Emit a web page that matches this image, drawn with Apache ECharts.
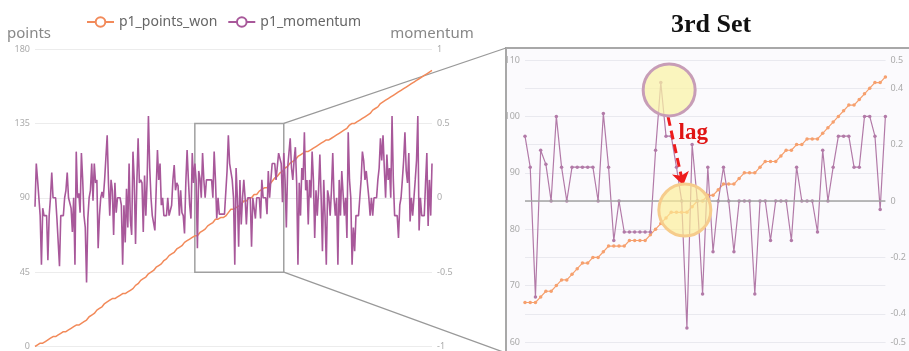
<!DOCTYPE html>
<html>
<head>
<meta charset="utf-8">
<script src="https://cdn.jsdelivr.net/npm/echarts@6/dist/echarts.min.js"></script>
<style>
  html, body { margin: 0; padding: 0; background: #fff; }
  #chart { width: 909px; height: 351px; }
</style>
</head>
<body>
<div id="chart"></div>
<script>
// p1 points won (running total), before / during / after the 3rd set
const wonBefore = [
  0,0,1,1,2,2,2,3,3,4,4,4,5,5,6,6,6,7,7,7,8,8,9,9,9,10,10,11,11,11,12,12,13,13,13,14,14,15,15,16,16,
  17,18,18,19,20,20,21,22,22,23,24,24,25,26,26,27,28,28,
  28,29,29,29,30,30,30,31,31,32,32,32,33,33,34,34,34,35,
  36,37,37,38,39,40,40,41,42,42,43,44,44,
  45,46,46,47,48,48,
  49,50,50,51,52,52,53,54,55,55,56,57,57,58,59,59,60,61,61,62,63,63,64,65,65,66,66,66
];
const wonSet3 = [
  67,67,67,68,69,69,70,71,71,72,73,74,74,75,75,76,77,77,77,77,
  78,78,78,78,79,80,81,82,83,83,83,83,84,85,85,86,86,87,88,88,
  88,89,90,90,90,91,92,92,92,93,94,94,95,95,96,96,96,97,98,99,
  100,101,102,102,103,104,105,106,106,107
];
const wonAfter = [
  108,109,109,110,111,111,112,113,113,114,115,115,
  116,116,117,117,118,118,118,119,119,120,120,121,121,121,122,122,123,123,124,124,125,125,125,
  126,126,127,127,128,128,129,129,130,130,131,131,132,132,133,
  134,134,135,135,135,136,136,137,137,137,138,138,139,139,
  140,141,141,142,143,143,144,145,145,146,147,147,148,148,149,150,150,150,151,151,
  152,152,153,154,154,155,155,156,156,157,157,158,158,159,159,160,
  160,161,161,162,162,163,163,163,164,164,165,165,166,166,167
];

// p1 momentum, same three stretches
const momBefore = [
  -0.06,0.23,0.12,0.13,-0.12,-0.45,-0.07,-0.12,-0.12,-0.12,-0.42,-0.12,0,0.17,0,0,0,-0.14,-0.14,-0.46,
  -0.12,-0.12,-0.12,0,0.05,0.17,0,0,-0.07,-0.23,0,-0.45,0.31,0,0.03,-0.1,0.3,0.12,-0.12,-0.2,
  -0.57,-0.14,0,0.05,0.23,-0.02,0.23,0.1,0.12,-0.34,-0.12,0,0.04,0,0.12,0.12,0.42,0.1,-0.12,0.12,
  0.05,-0.25,0.1,-0.1,0,0,0,-0.05,-0.45,-0.05,-0.3,0.06,-0.2,0.23,-0.15,-0.25,0.31,0.12,-0.31,0.1,
  0.4,0.1,0.12,0.1,-0.23,0.15,-0.12,0.12,0.55,0.2,0,-0.12,-0.12,-0.22,0.05,0.32,0.12,0.23,-0.05,0,
  -0.12,-0.12,-0.12,0,-0.12,-0.12,-0.05,0.12,0.22,0.05,0.1,0.08,-0.12,0.05,-0.1,-0.12,-0.24,0.1,0.32,0.12,
  -0.05,-0.14,0.3,0.1
];
const momSet3 = [
  0.23,0.12,-0.34,0.18,0.13,0,0.3,0.12,0,0.12,0.12,0.12,0.12,0.12,0,0.31,0.12,-0.14,0,-0.11,
  -0.11,-0.11,-0.11,-0.11,-0.11,0.18,0.42,0.23,0.23,0.12,0,-0.45,0.2,0,-0.33,0.12,-0.18,0,0.12,0,
  -0.18,0,0,0,-0.33,0,0,-0.14,0,0,0,-0.14,0.12,0,0,0,-0.11,0.18,0,0.12,
  0.23,0.23,0.23,0.12,0.12,0.3,0.3,0.23,-0.03,0.3
];
const momAfter = [
  0.12,-0.2,0.2,0.3,0.4,0.2,0.12,0.25,0.34,0.1,-0.45,0.1,-0.12,0.2,0.12,0.44,0.05,0.12,-0.18,0.12,
  0,0.31,0.12,-0.27,0.05,-0.12,0.05,0.29,0,-0.36,0.12,-0.12,-0.45,0.05,0,-0.12,0.05,0.3,0,-0.12,
  0,-0.45,0.12,-0.12,0.18,0.18,-0.12,0,-0.27,0.44,0.12,0,-0.45,-0.2,-0.36,-0.12,-0.12,-0.12,0,0.12,
  0.31,0.25,0.12,0.18,0.18,0,-0.12,0,-0.12,0,0,0,0.12,0.2,0.4,0.25,0.42,0.2,0,0.29,
  0.12,0.2,0,0.55,0.12,-0.12,-0.12,-0.12,-0.27,-0.05,0,0.12,0.25,0.44,0.18,0.1,0.3,-0.16,0,-0.12,
  0,0.12,0.25,0.55,-0.22,0,-0.12,-0.12,-0.12,0.1,0.3,-0.19,0.12,-0.12,0.23
];

const seriesNames = ['p1_points_won', 'p1_momentum'];
const boxPoints = [45, 135];   // vertical extent of the zoom box on the left chart

const set3Start = wonBefore.length;
const set3End = set3Start + wonSet3.length - 1;
const wonAll = wonBefore.concat(wonSet3, wonAfter);
const momAll = momBefore.concat(momSet3, momAfter);
const toPairs = arr => arr.map((v, i) => [i, v]);

const FONT = '"Noto Sans", sans-serif';
const ORANGE = '#f28a5a';
const PURPLE = '#a8589a';
const ORANGE_LT = '#f6a06e';
const PURPLE_LT = '#b27aa8';

const yBase = {
  axisLine: {show: false},
  axisTick: {show: false},
  axisLabel: {fontSize: 9, color: '#aaa', margin: 5, fontFamily: FONT},
  splitLine: {lineStyle: {color: '#ececec'}},
  nameGap: 8,
  nameTextStyle: {fontSize: 15, color: '#888', fontFamily: FONT}
};

const chart = echarts.init(document.getElementById('chart'));

const option = {
  animation: false,
  legend: {
    data: seriesNames,
    left: 81,
    top: 10,
    itemWidth: 27,
    itemHeight: 12,
    itemGap: 10,
    textStyle: {fontSize: 14, color: '#666', fontFamily: FONT}
  },
  grid: [
    {left: 35, top: 49, width: 397, height: 301},
    {left: 525, top: 60, width: 370, height: 282}
  ],
  xAxis: [
    {type: 'value', gridIndex: 0, min: 0, max: wonAll.length - 1, show: false},
    {type: 'value', gridIndex: 1, min: 0, max: wonSet3.length - 1, show: false}
  ],
  yAxis: [
    {...yBase, gridIndex: 0, min: 0, max: 180, interval: 45, name: 'points',
      nameTextStyle: {...yBase.nameTextStyle, padding: [0, 12, 0, 0]}},
    {...yBase, gridIndex: 0, position: 'right', min: -1, max: 1, interval: 0.5, name: 'momentum'},
    {...yBase, gridIndex: 1, min: 60, max: 110, interval: 10, name: '',
      splitLine: {lineStyle: {color: '#e9e9ef'}}},
    {...yBase, gridIndex: 1, position: 'right', min: -0.5, max: 0.5, name: '',
      splitLine: {lineStyle: {color: '#e9e9ef'}}}
  ],
  series: [
    {
      name: seriesNames[0], type: 'line', xAxisIndex: 0, yAxisIndex: 0,
      data: toPairs(wonAll), showSymbol: false,
      lineStyle: {width: 1.5, color: ORANGE}, itemStyle: {color: ORANGE},
      markArea: {
        silent: true,
        itemStyle: {color: 'rgba(0,0,0,0)', borderColor: '#a0a0a0', borderWidth: 1.5},
        data: [[{coord: [set3Start, boxPoints[0]]}, {coord: [set3End, boxPoints[1]]}]]
      }
    },
    {
      name: seriesNames[1], type: 'line', xAxisIndex: 0, yAxisIndex: 1,
      data: toPairs(momAll), showSymbol: false,
      lineStyle: {width: 1.6, color: PURPLE}, itemStyle: {color: PURPLE}
    },
    {
      name: seriesNames[0], type: 'line', xAxisIndex: 1, yAxisIndex: 2,
      data: toPairs(wonSet3), symbol: 'circle', symbolSize: 3.5,
      lineStyle: {width: 1.2, color: ORANGE_LT}, itemStyle: {color: ORANGE_LT},
      markLine: {
        silent: true,
        symbol: ['none', 'arrow'],
        symbolSize: 13,
        label: {show: false},
        lineStyle: {color: '#ee1c1c', width: 3, type: [9, 5]},
        data: [[{coord: [27.4, 99.9]}, {coord: [30.3, 87.8]}]]
      }
    },
    {
      name: seriesNames[1], type: 'line', xAxisIndex: 1, yAxisIndex: 3,
      data: toPairs(momSet3), symbol: 'circle', symbolSize: 3.5,
      lineStyle: {width: 1.2, color: PURPLE_LT}, itemStyle: {color: PURPLE_LT},
      markLine: {
        silent: true,
        symbol: 'none',
        label: {show: false},
        lineStyle: {color: '#a3a3a3', width: 1.5, type: 'solid'},
        data: [{yAxis: 0}]
      },
      markPoint: {
        silent: true,
        label: {show: false},
        data: [
          {coord: [27.6, 0.394], symbol: 'circle', symbolSize: 52,
            itemStyle: {color: 'rgba(250,242,165,0.72)', borderColor: '#c79db7', borderWidth: 3}},
          {coord: [30.6, -0.032], symbol: 'circle', symbolSize: 52,
            itemStyle: {color: 'rgba(252,238,150,0.68)', borderColor: '#f6cc8c', borderWidth: 3}},
          {coord: [32.2, 0.24], symbol: 'circle', symbolSize: 1,
            itemStyle: {color: 'rgba(0,0,0,0)'},
            label: {show: true, position: 'inside', formatter: 'lag', color: '#e01414',
              fontSize: 23, fontWeight: 'bold', fontFamily: '"Liberation Serif", serif'}}
        ]
      }
    }
  ]
};

chart.setOption(option);

// frame of the zoomed panel, title, and the lines tying the box to it
const boxTop = chart.convertToPixel({xAxisIndex: 0, yAxisIndex: 0}, [set3End, boxPoints[1]]);
const boxBottom = chart.convertToPixel({xAxisIndex: 0, yAxisIndex: 0}, [set3End, boxPoints[0]]);

chart.setOption({
  graphic: {
    elements: [
      {id: 'frame', type: 'rect', z: -5, silent: true,
        shape: {x: 506, y: 48, width: 420, height: 320},
        style: {fill: '#fbfafd', stroke: '#a8a8a8', lineWidth: 2}},
      {id: 'title', type: 'text', x: 711, y: 25, silent: true,
        style: {text: '3rd Set', align: 'center', verticalAlign: 'middle',
          font: 'bold 26px "Liberation Serif", serif', fill: '#111'}},
      {id: 'linkTop', type: 'line', silent: true,
        shape: {x1: boxTop[0], y1: boxTop[1], x2: 506, y2: 48},
        style: {stroke: '#999', lineWidth: 1.3}},
      {id: 'linkBottom', type: 'line', silent: true,
        shape: {x1: boxBottom[0], y1: boxBottom[1], x2: 506, y2: 353},
        style: {stroke: '#999', lineWidth: 1.3}}
    ]
  }
});
</script>
</body>
</html>
